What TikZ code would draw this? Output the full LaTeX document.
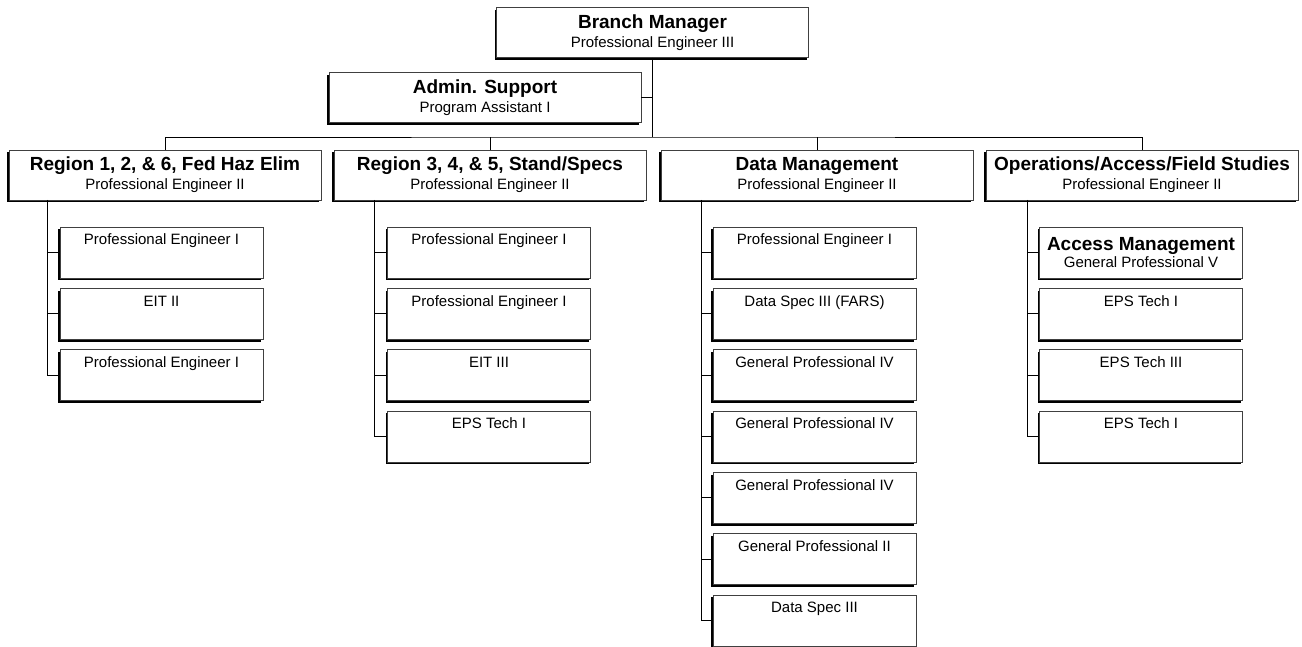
\documentclass[tikz,border=0pt]{standalone}
\usepackage{fontspec}
\setmainfont{Liberation Sans}
\usetikzlibrary{shadows}
\newcommand{\ttl}[1]{{\fontsize{19}{19}\selectfont\bfseries #1}}
\begin{document}
\begin{tikzpicture}[x=1pt, y=-1pt,
    unit/.style={rectangle, draw=black!75, fill=white, minimum width=312pt, minimum height=50pt, inner sep=0pt, align=center, font=\fontsize{15}{19}\selectfont, drop shadow={shadow xshift=-2pt, shadow yshift=-2.5pt, fill=black, opacity=1}},
    staff/.style={rectangle, draw=black!75, fill=white, minimum width=203pt, inner xsep=0pt, inner ysep=0pt, text height=18pt, text depth=33pt, font=\fontsize{15}{17}\selectfont, drop shadow={shadow xshift=-2pt, shadow yshift=-2.5pt, fill=black, opacity=1}},
    link/.style={line width=0.8pt}
]
\useasboundingbox (0,0) rectangle (1302,647);

% top of the branch
\node[unit] (bm) at (652.5,32.5) {\ttl{Branch Manager}\\Professional Engineer III};
\node[unit] (admin) at (485,97.5) {\ttl{Admin. Support}\\Program Assistant I};

\node[unit] (r1) at (165,175) {\ttl{Region 1, 2, \& 6, Fed Haz Elim}\\Professional Engineer II};
\node[unit] (r2) at (490,175) {\ttl{Region 3, 4, \& 5, Stand/Specs}\\Professional Engineer II};
\node[unit] (dm) at (817,175) {\ttl{Data Management}\\Professional Engineer II};
\node[unit] (ops) at (1142,175) {\ttl{Operations/Access/Field Studies}\\Professional Engineer II};

\coordinate (bus) at (652.5,137);
\draw[link] (bm.south) -- (bus);
\draw[link] (admin.east) -- (admin.east -| bus);
\draw[link] (r1.north) |- (bus) -| (ops.north);
\draw[link] (r2.north) -- (r2.north |- bus);
\draw[link] (dm.north) -- (dm.north |- bus);

% staff under each unit
\foreach \txt [count=\i] in {Professional Engineer I, EIT II, Professional Engineer I}
  \node[staff] (r1c\i) at (161.5,{252.5+61.3*(\i-1)}) {\txt};
\foreach \txt [count=\i] in {Professional Engineer I, Professional Engineer I, EIT III, EPS Tech I}
  \node[staff] (r2c\i) at (489,{252.5+61.3*(\i-1)}) {\txt};
\foreach \txt [count=\i] in {Professional Engineer I, Data Spec III (FARS), General Professional IV, General Professional IV, General Professional IV, General Professional II, Data Spec III}
  \node[staff] (dmc\i) at (814.5,{252.5+61.3*(\i-1)}) {\txt};

\node[unit, minimum width=203pt, minimum height=51pt, font=\fontsize{15}{17}\selectfont] (opsc1) at (1141,252.5) {\ttl{Access Management}\\General Professional V};
\foreach \txt [count=\i from 2] in {EPS Tech I, EPS Tech III, EPS Tech I}
  \node[staff] (opsc\i) at (1141,{252.5+61.3*(\i-1)}) {\txt};

% spines
\coordinate (r1s) at (47,200);
\coordinate (r2s) at (374,200);
\coordinate (dms) at (701,200);
\coordinate (opss) at (1027,200);

\draw[link] (r1s) |- (r1c3.west);
\foreach \i in {1,2} \draw[link] (r1c\i.west) -- (r1c\i.west -| r1s);
\draw[link] (r2s) |- (r2c4.west);
\foreach \i in {1,...,3} \draw[link] (r2c\i.west) -- (r2c\i.west -| r2s);
\draw[link] (dms) |- (dmc7.west);
\foreach \i in {1,...,6} \draw[link] (dmc\i.west) -- (dmc\i.west -| dms);
\draw[link] (opss) |- (opsc4.west);
\foreach \i in {1,...,3} \draw[link] (opsc\i.west) -- (opsc\i.west -| opss);

\end{tikzpicture}
\end{document}
